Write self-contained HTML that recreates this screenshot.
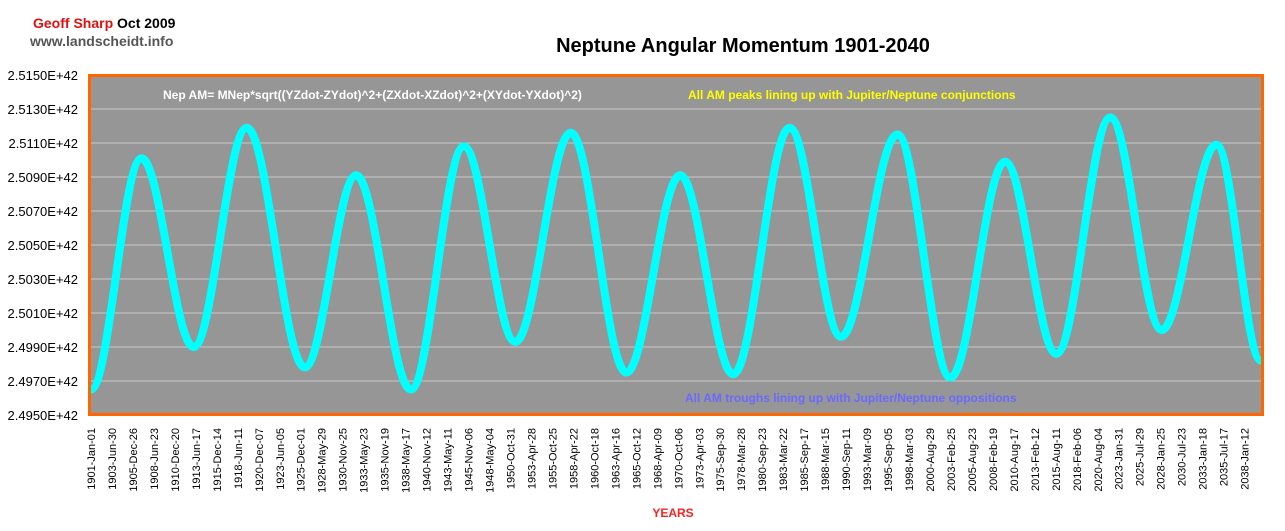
<!DOCTYPE html>
<html><head><meta charset="utf-8"><style>
body{margin:0;background:#fff;width:1285px;height:526px;overflow:hidden;font-family:"Liberation Sans",Arial,sans-serif}
</style></head><body>
<svg id="chart" width="1285" height="526" xmlns="http://www.w3.org/2000/svg" font-family="Liberation Sans, Arial, sans-serif">
<text x="33" y="28" font-size="14" font-weight="bold"><tspan fill="#e01010">Geoff Sharp</tspan><tspan fill="#000"> Oct 2009</tspan></text>
<text x="30" y="46" font-size="14" font-weight="bold" fill="#555">www.landscheidt.info</text>
<text x="743" y="52" font-size="20" font-weight="bold" text-anchor="middle" fill="#000">Neptune Angular Momentum 1901-2040</text>
<rect x="89.5" y="75.5" width="1173" height="339" fill="#969696" stroke="#ff6600" stroke-width="3"/>
<g id="grid"></g>
<g id="yticks"></g>
<g id="xticks"></g>
<path id="series" fill="none" stroke="#00ffff" stroke-width="8" stroke-linejoin="round"/>
<text x="163" y="99" font-size="12" font-weight="bold" fill="#fff">Nep AM= MNep*sqrt((YZdot-ZYdot)^2+(ZXdot-XZdot)^2+(XYdot-YXdot)^2)</text>
<text x="688" y="99" font-size="12" font-weight="bold" fill="#ffff00">All AM peaks lining up with Jupiter/Neptune conjunctions</text>
<text x="685" y="402" font-size="12" font-weight="bold" fill="#6a6aff">All AM troughs lining up with Jupiter/Neptune oppositions</text>
<text x="673" y="517" font-size="12" font-weight="bold" fill="#ff2020" text-anchor="middle">YEARS</text>
</svg>
<script>
const yTicks=[2.4950,2.4970,2.4990,2.5010,2.5030,2.5050,2.5070,2.5090,2.5110,2.5130,2.5150];
const xLabels=["1901-Jan-01","1903-Jun-30","1905-Dec-26","1908-Jun-23","1910-Dec-20","1913-Jun-17","1915-Dec-14","1918-Jun-11","1920-Dec-07","1923-Jun-05","1925-Dec-01","1928-May-29","1930-Nov-25","1933-May-23","1935-Nov-19","1938-May-17","1940-Nov-12","1943-May-11","1945-Nov-06","1948-May-04","1950-Oct-31","1953-Apr-28","1955-Oct-25","1958-Apr-22","1960-Oct-18","1963-Apr-16","1965-Oct-12","1968-Apr-09","1970-Oct-06","1973-Apr-03","1975-Sep-30","1978-Mar-28","1980-Sep-23","1983-Mar-22","1985-Sep-17","1988-Mar-15","1990-Sep-11","1993-Mar-09","1995-Sep-05","1998-Mar-03","2000-Aug-29","2003-Feb-25","2005-Aug-23","2008-Feb-19","2010-Aug-17","2013-Feb-12","2015-Aug-11","2018-Feb-06","2020-Aug-04","2023-Jan-31","2025-Jul-29","2028-Jan-25","2030-Jul-23","2033-Jan-18","2035-Jul-17","2038-Jan-12"];
const years=[1901.0,1907.0,1913.2,1919.5,1926.4,1932.5,1939.0,1945.3,1951.4,1958.0,1964.6,1971.0,1977.3,1984.0,1990.1,1996.8,2003.1,2009.6,2015.7,2022.1,2028.2,2034.7,2040.0];
const values=[2.4965,2.5101,2.4990,2.5119,2.4978,2.5091,2.4965,2.5108,2.4993,2.5116,2.4975,2.5091,2.4974,2.5119,2.4996,2.5115,2.4972,2.5099,2.4986,2.5125,2.5000,2.5109,2.4982];
const NS="http://www.w3.org/2000/svg";
const X=yr=>91+(yr-1901)*(1170/139);
const Y=v=>415-(v-2.4950)/0.002*34;
const grid=document.getElementById('grid'),yt=document.getElementById('yticks'),xt=document.getElementById('xticks');
yTicks.forEach((t,i)=>{
  if(i>0&&i<yTicks.length-1){const l=document.createElementNS(NS,'line');
  
  
  l.setAttribute('x1',91);l.setAttribute('x2',1261);l.setAttribute('y1',Y(t));l.setAttribute('y2',Y(t));
  l.setAttribute('stroke','#c8c8c8');l.setAttribute('stroke-width','1');grid.appendChild(l);}
  const tx=document.createElementNS(NS,'text');
  
  
  tx.setAttribute('x',78);tx.setAttribute('y',Y(t)+5);tx.setAttribute('text-anchor','end');tx.setAttribute('font-size','13');
  tx.textContent=t.toFixed(4)+'E+42';yt.appendChild(tx);
});
xLabels.forEach((s,i)=>{
  const x=X(1901+i*2.4918);
  const tx=document.createElementNS(NS,'text');
  
  
  tx.setAttribute('transform','translate('+(x+4)+',428) rotate(-90)');
  tx.setAttribute('text-anchor','end');tx.setAttribute('font-size','11');
  tx.textContent=(i%2==0&&i>0&&i<4?'':'')+s;xt.appendChild(tx);
});
let d='M'+X(years[0])+','+Y(values[0]);
for(let i=1;i<years.length;i++){
  const x0=X(years[i-1]),y0=Y(values[i-1]),x1=X(years[i]),y1=Y(values[i]);
  const dx=(x1-x0)*0.36;
  d+=' C'+(x0+dx)+','+y0+' '+(x1-dx)+','+y1+' '+x1+','+y1;
}
document.getElementById('series').setAttribute('d',d);
</script>
</body></html>
